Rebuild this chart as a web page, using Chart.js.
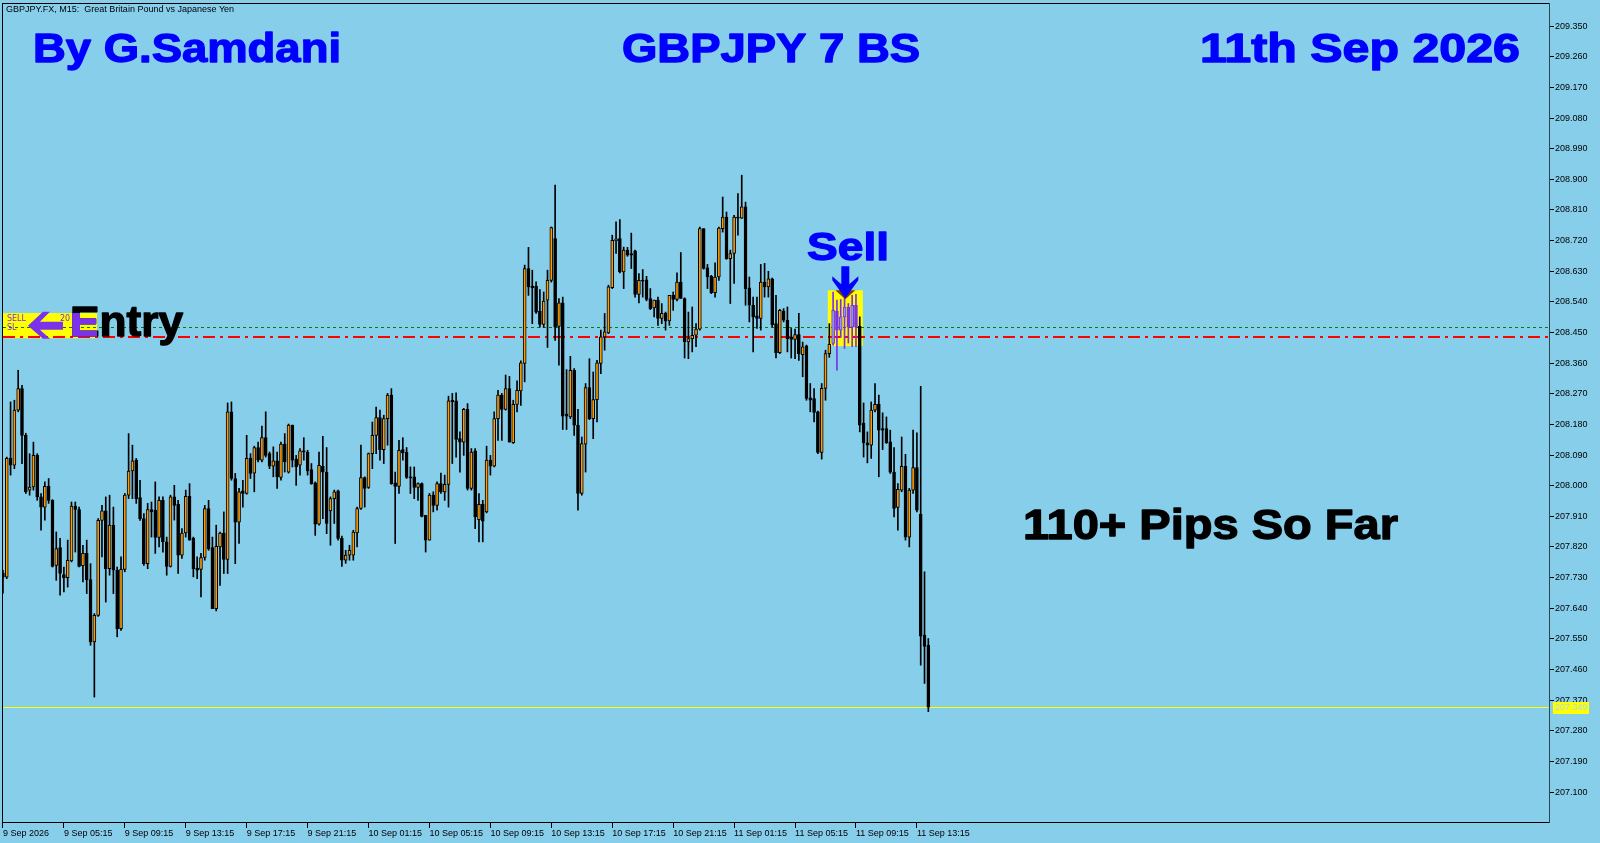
<!DOCTYPE html>
<html lang="en">
<head>
<meta charset="UTF-8" />
<title>GBPJPY M15 - 11 Sep 2026</title>
<script src="https://cdn.jsdelivr.net/npm/chart.js@4"></script>
<style>
  html, body { margin: 0; padding: 0; background: #87CEEB; }
  canvas { display: block; }
</style>
</head>
<body>
<canvas id="chart" width="1600" height="843"></canvas>
<script>
  // M15 bars, 9 Sep 01:15 -> 11 Sep 14:00
  const open = [
    207.743, 207.731, 208.080, 208.060, 208.222, 208.285, 208.148, 207.987, 207.996, 208.089,
    207.967, 207.937, 207.998, 207.957, 207.766, 207.818, 207.739, 207.730, 207.779, 207.940,
    207.930, 207.765, 207.801, 207.724, 207.541, 207.619, 207.898, 207.926, 207.756, 207.884,
    207.752, 207.580, 207.754, 207.972, 208.043, 208.075, 207.965, 207.903, 207.771, 207.930,
    207.928, 207.848, 207.957, 207.835, 207.763, 207.967, 207.945, 207.796, 207.861, 207.969,
    207.845, 207.758, 207.754, 207.789, 207.933, 207.818, 207.639, 207.820, 207.861, 207.783,
    208.217, 208.021, 207.893, 207.985, 207.977, 208.080, 208.037, 208.112, 208.075, 208.141,
    208.094, 208.057, 208.073, 208.024, 208.122, 208.040, 208.178, 208.078, 208.060, 208.102,
    208.099, 208.047, 208.008, 207.887, 208.057, 208.040, 207.926, 207.962, 207.985, 207.845,
    207.781, 207.796, 207.796, 207.861, 207.933, 208.024, 207.995, 208.094, 208.148, 208.200,
    208.106, 208.197, 208.266, 208.008, 207.998, 208.106, 208.099, 208.026, 208.026, 207.995,
    208.006, 207.913, 207.840, 207.972, 207.942, 208.006, 207.982, 208.004, 208.251, 208.249,
    208.138, 208.128, 208.224, 207.992, 208.102, 207.900, 207.945, 207.923, 208.075, 208.057,
    208.197, 208.266, 208.224, 208.285, 208.126, 208.239, 208.278, 208.359, 208.638, 208.586,
    208.586, 208.513, 208.474, 208.545, 208.603, 208.726, 208.468, 208.537, 208.210, 208.202,
    208.339, 208.178, 207.977, 208.122, 208.288, 208.197, 208.253, 208.359, 208.437, 208.449,
    208.582, 208.719, 208.726, 208.628, 208.692, 208.682, 208.690, 208.562, 208.603, 208.605,
    208.550, 208.522, 208.545, 208.491, 208.506, 208.484, 208.559, 208.547, 208.598, 208.550,
    208.422, 208.432, 208.442, 208.460, 208.755, 208.640, 208.615, 208.567, 208.613, 208.755,
    208.789, 208.667, 208.682, 208.789, 208.786, 208.819, 208.581, 208.530, 208.499, 208.491,
    208.598, 208.584, 208.608, 208.476, 208.391, 208.513, 208.486, 208.437, 208.430, 208.444,
    208.385, 208.411, 208.258, 208.256, 208.217, 208.098, 208.286, 208.388, 208.418, 208.513,
    208.457, 208.496, 208.525, 208.466, 208.530, 208.468, 208.183, 208.126, 208.119, 208.222,
    208.239, 208.168, 208.168, 208.129, 208.040, 207.936, 207.987, 208.057, 207.849, 207.987,
    208.053, 207.916, 207.561, 207.531
  ];
  const high = [
    207.751, 208.084, 208.246, 208.251, 208.339, 208.295, 208.154, 208.094, 208.128, 208.094,
    207.977, 208.011, 208.021, 207.959, 207.864, 207.845, 207.761, 207.840, 207.952, 207.952,
    207.937, 207.825, 207.840, 207.771, 207.624, 207.903, 207.942, 207.967, 207.972, 207.937,
    207.761, 207.791, 207.977, 208.153, 208.119, 208.080, 208.016, 207.918, 207.948, 207.952,
    208.011, 207.967, 207.967, 207.849, 207.972, 208.001, 207.957, 207.874, 207.987, 208.006,
    207.849, 207.791, 207.801, 207.942, 207.957, 207.849, 207.884, 207.864, 207.923, 208.243,
    208.246, 208.036, 207.992, 208.016, 208.148, 208.094, 208.116, 208.128, 208.175, 208.217,
    208.099, 208.114, 208.099, 208.128, 208.153, 208.181, 208.178, 208.089, 208.109, 208.141,
    208.104, 208.065, 208.011, 208.099, 208.145, 208.112, 207.967, 207.987, 207.987, 207.852,
    207.810, 207.825, 207.869, 207.937, 208.119, 208.026, 208.096, 208.187, 208.231, 208.222,
    208.207, 208.271, 208.285, 208.040, 208.133, 208.141, 208.112, 208.055, 208.055, 208.008,
    208.008, 207.913, 207.977, 207.982, 208.011, 208.037, 208.031, 208.263, 208.271, 208.273,
    208.158, 208.227, 208.241, 208.109, 208.109, 207.977, 207.957, 208.116, 208.089, 208.217,
    208.280, 208.271, 208.325, 208.321, 208.251, 208.308, 208.367, 208.648, 208.700, 208.633,
    208.599, 208.576, 208.569, 208.633, 208.760, 208.883, 208.550, 208.554, 208.341, 208.380,
    208.344, 208.224, 208.143, 208.300, 208.373, 208.334, 208.368, 208.457, 208.506, 208.589,
    208.736, 208.775, 208.782, 208.701, 208.700, 208.742, 208.692, 208.623, 208.635, 208.615,
    208.579, 208.545, 208.554, 208.535, 208.510, 208.559, 208.569, 208.625, 208.685, 208.552,
    208.510, 208.525, 208.476, 208.760, 208.755, 208.650, 208.618, 208.655, 208.760, 208.848,
    208.804, 208.692, 208.794, 208.858, 208.912, 208.833, 208.613, 208.554, 208.554, 208.650,
    208.653, 208.630, 208.610, 208.559, 208.518, 208.520, 208.525, 208.462, 208.460, 208.506,
    208.422, 208.413, 208.300, 208.285, 208.219, 208.300, 208.398, 208.476, 208.569, 208.545,
    208.547, 208.554, 208.535, 208.559, 208.562, 208.496, 208.243, 208.158, 208.246, 208.300,
    208.266, 208.214, 208.202, 208.163, 208.112, 208.006, 208.143, 208.092, 207.992, 208.163,
    208.155, 208.292, 207.747, 207.551
  ];
  const low = [
    207.684, 207.727, 208.031, 208.050, 208.217, 208.065, 207.977, 207.972, 207.987, 207.957,
    207.869, 207.899, 207.948, 207.761, 207.722, 207.678, 207.688, 207.702, 207.776, 207.805,
    207.761, 207.717, 207.683, 207.531, 207.379, 207.616, 207.791, 207.658, 207.737, 207.683,
    207.556, 207.575, 207.747, 207.962, 207.962, 207.948, 207.898, 207.766, 207.756, 207.849,
    207.801, 207.820, 207.805, 207.737, 207.761, 207.899, 207.742, 207.786, 207.849, 207.840,
    207.732, 207.727, 207.673, 207.781, 207.810, 207.639, 207.632, 207.707, 207.742, 207.742,
    208.016, 207.771, 207.830, 207.937, 207.975, 208.021, 207.982, 208.070, 208.070, 208.084,
    208.050, 208.026, 207.992, 208.016, 208.040, 208.037, 208.055, 208.001, 208.031, 208.075,
    208.031, 208.004, 207.854, 207.884, 207.903, 207.859, 207.825, 207.889, 207.840, 207.763,
    207.772, 207.781, 207.781, 207.820, 207.930, 207.937, 207.992, 208.050, 208.094, 208.075,
    208.065, 208.119, 208.004, 207.830, 207.977, 208.075, 208.021, 207.977, 207.962, 207.957,
    207.908, 207.805, 207.840, 207.923, 207.928, 207.977, 207.957, 207.937, 208.065, 208.084,
    208.040, 208.089, 207.987, 207.987, 207.874, 207.835, 207.835, 207.920, 208.031, 208.055,
    208.133, 208.133, 208.222, 208.128, 208.124, 208.217, 208.236, 208.305, 208.559, 208.476,
    208.506, 208.466, 208.465, 208.406, 208.598, 208.427, 208.354, 208.165, 208.165, 208.197,
    208.148, 207.928, 207.972, 208.040, 208.194, 208.138, 208.187, 208.329, 208.398, 208.447,
    208.579, 208.682, 208.625, 208.579, 208.674, 208.638, 208.554, 208.537, 208.554, 208.543,
    208.517, 208.496, 208.471, 208.476, 208.457, 208.471, 208.515, 208.543, 208.550, 208.375,
    208.373, 208.393, 208.408, 208.457, 208.636, 208.579, 208.564, 208.554, 208.603, 208.745,
    208.665, 208.535, 208.594, 208.736, 208.785, 208.530, 208.481, 208.393, 208.462, 208.457,
    208.554, 208.554, 208.466, 208.375, 208.388, 208.481, 208.393, 208.375, 208.373, 208.368,
    208.320, 208.251, 208.217, 208.187, 208.094, 208.078, 208.251, 208.377, 208.413, 208.339,
    208.435, 208.403, 208.419, 208.408, 208.408, 208.158, 208.084, 208.067, 208.080, 208.217,
    208.026, 208.106, 208.124, 208.036, 207.908, 207.869, 207.982, 207.840, 207.820, 207.977,
    207.923, 207.473, 207.419, 207.336
  ];
  const close = [
    207.731, 208.080, 208.060, 208.222, 208.285, 208.148, 207.982, 207.996, 208.089, 207.967,
    207.937, 207.998, 207.957, 207.763, 207.815, 207.742, 207.729, 207.781, 207.940, 207.930,
    207.763, 207.801, 207.724, 207.541, 207.619, 207.898, 207.926, 207.756, 207.884, 207.752,
    207.580, 207.754, 207.972, 208.043, 208.073, 207.962, 207.903, 207.771, 207.930, 207.923,
    207.848, 207.957, 207.835, 207.763, 207.967, 207.942, 207.796, 207.861, 207.969, 207.840,
    207.756, 207.752, 207.789, 207.933, 207.815, 207.639, 207.822, 207.861, 207.783, 208.217,
    208.021, 207.893, 207.982, 207.977, 208.080, 208.036, 208.112, 208.075, 208.141, 208.089,
    208.057, 208.073, 208.026, 208.122, 208.070, 208.178, 208.075, 208.055, 208.102, 208.099,
    208.043, 208.006, 207.887, 208.060, 208.040, 207.889, 207.962, 207.982, 207.845, 207.781,
    207.796, 207.810, 207.864, 207.933, 208.024, 207.992, 208.094, 208.148, 208.200, 208.106,
    208.197, 208.266, 208.006, 207.998, 208.104, 208.096, 208.024, 208.023, 207.995, 208.006,
    207.910, 207.840, 207.972, 207.942, 208.006, 207.982, 208.004, 208.249, 208.246, 208.136,
    208.128, 208.224, 207.992, 208.099, 207.908, 207.945, 207.896, 208.075, 208.057, 208.197,
    208.266, 208.224, 208.285, 208.128, 208.239, 208.280, 208.361, 208.638, 208.584, 208.582,
    208.510, 208.474, 208.542, 208.603, 208.758, 208.466, 208.537, 208.204, 208.204, 208.339,
    208.178, 207.977, 208.124, 208.288, 208.197, 208.253, 208.361, 208.437, 208.452, 208.584,
    208.721, 208.725, 208.628, 208.692, 208.677, 208.677, 208.562, 208.603, 208.601, 208.547,
    208.520, 208.545, 208.491, 208.506, 208.484, 208.559, 208.547, 208.598, 208.550, 208.422,
    208.432, 208.442, 208.460, 208.755, 208.638, 208.613, 208.567, 208.613, 208.757, 208.789,
    208.667, 208.682, 208.789, 208.786, 208.819, 208.579, 208.530, 208.496, 208.491, 208.598,
    208.584, 208.608, 208.473, 208.391, 208.515, 208.486, 208.432, 208.430, 208.444, 208.388,
    208.408, 208.256, 208.251, 208.215, 208.098, 208.286, 208.388, 208.415, 208.515, 208.457,
    208.496, 208.525, 208.466, 208.530, 208.466, 208.178, 208.126, 208.119, 208.222, 208.239,
    208.163, 208.163, 208.126, 208.040, 207.933, 207.989, 208.057, 207.849, 207.987, 208.053,
    207.928, 207.558, 207.528, 207.349
  ];

  // time axis: one label every 16 bars (4 hours)
  const xTickBars = [0, 16, 32, 48, 64, 80, 96, 112, 128, 144, 160, 176, 192, 208, 224, 240];
  const xTickLabels = [
    '9 Sep 2026', '9 Sep 05:15', '9 Sep 09:15', '9 Sep 13:15', '9 Sep 17:15', '9 Sep 21:15',
    '10 Sep 01:15', '10 Sep 05:15', '10 Sep 09:15', '10 Sep 13:15', '10 Sep 17:15', '10 Sep 21:15',
    '11 Sep 01:15', '11 Sep 05:15', '11 Sep 09:15', '11 Sep 13:15'
  ];
  const yTicks = [
    209.350, 209.260, 209.170, 209.080, 208.990, 208.900, 208.810, 208.720, 208.630,
    208.540, 208.450, 208.360, 208.270, 208.180, 208.090, 208.000, 207.910, 207.820,
    207.730, 207.640, 207.550, 207.460, 207.370, 207.280, 207.190, 207.100
  ];

  const entryPrice = 208.466;   // green dotted
  const stopPrice = 208.439;    // red dash-dot
  const lastPrice = 207.349;    // yellow bid line

  // marked zone
  const sellFrom = 218, sellTo = 224;
  const sellBox = { x0: 216.6, x1: 225.8, top: 208.574, bottom: 208.410 };
  const entryBox = { x0: 0, x1: 24.7, top: 208.507, bottom: 208.433 };

  const SKY = '#87CEEB';
  const XOR_DARK = '#7C31EB';
  const XOR_LIGHT = '#8C98EE';
  const N = Math.min(open.length, high.length, low.length, close.length);

  const wicks = [], bodies = [];
  for (let i = 0; i < N; i++) {
    wicks.push({ x: i, y: [low[i], high[i]] });
    bodies.push({ x: i, y: [Math.min(open[i], close[i]), Math.max(open[i], close[i])] });
  }
  const inBox = i => i >= sellFrom && i <= sellTo;
  const isUp = i => close[i] >= open[i];

  function fitText(ctx, text, x, y, size, color, width) {
    ctx.save();
    ctx.font = 'bold ' + size + 'px "Liberation Sans", Arial, sans-serif';
    const w = ctx.measureText(text).width;
    ctx.translate(x, y);
    ctx.scale(width / w, 1);
    ctx.fillStyle = color;
    ctx.strokeStyle = color;
    ctx.lineWidth = 1.3;
    ctx.lineJoin = 'round';
    ctx.textBaseline = 'alphabetic';
    ctx.fillText(text, 0, 0);
    ctx.strokeText(text, 0, 0);
    ctx.restore();
  }

  function poly(ctx, pts, color) {
    ctx.beginPath();
    ctx.moveTo(pts[0][0], pts[0][1]);
    for (let k = 1; k < pts.length; k++) ctx.lineTo(pts[k][0], pts[k][1]);
    ctx.closePath();
    ctx.fillStyle = color;
    ctx.fill();
  }

  // horizontal price line, snapped to whole pixel rows
  function priceLine(chart, value, color, dash, width) {
    const { ctx, chartArea: a, scales: { y } } = chart;
    const row = Math.round(y.getPixelForValue(value));
    const py = width % 2 ? row + 0.5 : row + 1;
    ctx.save();
    ctx.strokeStyle = color;
    ctx.lineWidth = width;
    ctx.setLineDash(dash);
    ctx.beginPath();
    ctx.moveTo(a.left + 1, py);
    ctx.lineTo(a.right - 1, py);
    ctx.stroke();
    ctx.restore();
  }

  const decor = {
    id: 'decor',
    beforeDraw(chart) {
      const ctx = chart.ctx;
      ctx.save();
      ctx.fillStyle = SKY;
      ctx.fillRect(0, 0, chart.width, chart.height);
      ctx.restore();
    },
    beforeDatasetsDraw(chart) {
      const { ctx, scales: { x, y } } = chart;
      ctx.save();
      ctx.fillStyle = '#FFFF00';
      ctx.fillRect(x.getPixelForValue(sellBox.x0), y.getPixelForValue(sellBox.top),
        x.getPixelForValue(sellBox.x1) - x.getPixelForValue(sellBox.x0),
        y.getPixelForValue(sellBox.bottom) - y.getPixelForValue(sellBox.top));
      ctx.fillRect(x.getPixelForValue(entryBox.x0), y.getPixelForValue(entryBox.top),
        x.getPixelForValue(entryBox.x1) - x.getPixelForValue(entryBox.x0),
        y.getPixelForValue(entryBox.bottom) - y.getPixelForValue(entryBox.top));
      ctx.restore();
      priceLine(chart, entryPrice, '#008000', [3, 3], 1);
      priceLine(chart, stopPrice, '#FF0000', [12, 5, 3, 5], 2);
      priceLine(chart, lastPrice, '#FFFF00', [], 1);
    },
    afterDatasetsDraw(chart) {
      const { ctx, scales: { x, y } } = chart;
      ctx.save();

      // entry label on the left
      const ex0 = x.getPixelForValue(entryBox.x0), ex1 = x.getPixelForValue(entryBox.x1);
      const ey0 = y.getPixelForValue(entryBox.top), ey1 = y.getPixelForValue(entryBox.bottom);
      ctx.font = '8px "DejaVu Sans", sans-serif';
      ctx.fillStyle = XOR_DARK;
      ctx.textBaseline = 'middle';
      ctx.fillText('SELL', ex0 + 4, ey0 + 6);
      ctx.fillText('SL', ex0 + 4, ey0 + 15);
      ctx.fillText('20', ex0 + 57, ey0 + 6);
      const ay = (ey0 + ey1) / 2;
      poly(ctx, [[ex0 + 25, ay], [ex0 + 40, ay - 14], [ex0 + 47, ay - 14], [ex0 + 37, ay - 4],
        [ex0 + 60, ay - 4], [ex0 + 60, ay + 4], [ex0 + 37, ay + 4], [ex0 + 47, ay + 13],
        [ex0 + 40, ay + 13]], XOR_DARK);
      fitText(ctx, 'Entry', 70, 336, 42, '#000000', 113);
      ctx.save();
      ctx.beginPath();
      ctx.rect(ex0, ey0, ex1 - ex0, ey1 - ey0);
      ctx.clip();
      fitText(ctx, 'Entry', 70, 336, 42, XOR_DARK, 113);
      ctx.restore();

      // sell marker
      const sx0 = x.getPixelForValue(sellBox.x0), sx1 = x.getPixelForValue(sellBox.x1);
      const sy0 = y.getPixelForValue(sellBox.top);
      const cx = (sx0 + sx1) / 2;
      poly(ctx, [[cx - 10, sy0], [cx + 10, sy0], [cx, sy0 + 9]], '#803A14');
      poly(ctx, [[cx, sy0 + 8], [cx - 13, sy0 - 10], [cx - 13, sy0 - 14], [cx - 4, sy0 - 6],
        [cx - 4, sy0 - 24], [cx + 4, sy0 - 24], [cx + 4, sy0 - 6], [cx + 13, sy0 - 14],
        [cx + 13, sy0 - 10]], '#0000FF');
      fitText(ctx, 'Sell', 807, 260, 39, '#0000FF', 82);

      fitText(ctx, '110+ Pips So Far', 1023, 539, 42, '#000000', 375);
      ctx.restore();
    },
    afterDraw(chart) {
      const { ctx, chartArea: a, scales: { y } } = chart;
      ctx.save();
      ctx.strokeStyle = '#000000';
      ctx.lineWidth = 1;
      ctx.strokeRect(a.left + 0.5, a.top + 0.5, a.right - a.left - 1, a.bottom - a.top - 1);
      ctx.strokeStyle = '#2E4650';
      ctx.beginPath();
      ctx.moveTo(a.right - 0.5, a.top);
      ctx.lineTo(a.right - 0.5, a.bottom);
      ctx.stroke();

      // bid price tag
      const py = Math.round(y.getPixelForValue(lastPrice));
      ctx.fillStyle = '#FFFF00';
      ctx.fillRect(a.right + 3, py - 5, 36, 12);
      ctx.font = '9px "Liberation Sans", sans-serif';
      ctx.fillStyle = '#A9D8EE';
      ctx.textBaseline = 'middle';
      ctx.fillText(lastPrice.toFixed(3), a.right + 5, py + 1);

      // header texts
      ctx.font = '9px "Liberation Sans", sans-serif';
      ctx.fillStyle = '#000000';
      ctx.textBaseline = 'middle';
      ctx.fillText('GBPJPY.FX, M15:  Great Britain Pound vs Japanese Yen', 6, 10);
      fitText(ctx, 'By G.Samdani', 33, 62, 40, '#0000FF', 308);
      fitText(ctx, 'GBPJPY 7 BS', 622, 62, 40, '#0000FF', 298);
      fitText(ctx, '11th Sep 2026', 1200, 62, 40, '#0000FF', 320);
      ctx.restore();
    }
  };

  const tickFont = { family: '"Liberation Sans", sans-serif', size: 9 };

  new Chart(document.getElementById('chart'), {
    type: 'bar',
    data: {
      datasets: [
        {
          label: 'wick', data: wicks, grouped: false, barThickness: 1, order: 2,
          backgroundColor: c => inBox(c.dataIndex) ? XOR_DARK : '#000000'
        },
        {
          label: 'body', data: bodies, grouped: false, barThickness: 3, minBarLength: 1,
          order: 1, borderWidth: 1, borderSkipped: false,
          backgroundColor: c => {
            const i = c.dataIndex;
            if (inBox(i)) return isUp(i) ? XOR_LIGHT : XOR_DARK;
            return isUp(i) ? '#FF9A00' : '#000000';
          },
          borderColor: c => inBox(c.dataIndex) ? XOR_DARK : '#000000'
        }
      ]
    },
    options: {
      responsive: false,
      animation: false,
      layout: { padding: { left: 2, top: 3, right: 0, bottom: 0 } },
      plugins: { legend: { display: false }, tooltip: { enabled: false } },
      scales: {
        x: {
          type: 'linear',
          min: -0.25,
          max: 406.25,
          offset: false,
          grid: { offset: false, drawOnChartArea: false, color: '#000000', tickLength: 5 },
          border: { display: false },
          afterBuildTicks: s => { s.ticks = xTickBars.map(v => ({ value: v })); },
          afterFit: s => { s.height = 20; s.paddingLeft = 0; s.paddingRight = 0; },
          ticks: {
            autoSkip: false,
            maxRotation: 0,
            align: 'start',
            padding: 0,
            color: '#000000',
            font: tickFont,
            callback: v => xTickLabels[xTickBars.indexOf(v)] || ''
          }
        },
        y: {
          type: 'linear',
          position: 'right',
          min: 207.009,
          max: 209.418,
          beginAtZero: false,
          grid: { drawOnChartArea: false, color: '#000000', tickLength: 4 },
          border: { display: false },
          afterBuildTicks: s => { s.ticks = yTicks.map(v => ({ value: v })); },
          afterFit: s => { s.width = 50; s.paddingTop = 0; s.paddingBottom = 0; },
          ticks: {
            padding: 1,
            color: '#000000',
            font: tickFont,
            callback: v => Number(v).toFixed(3)
          }
        }
      }
    },
    plugins: [decor]
  });
</script>
</body>
</html>
